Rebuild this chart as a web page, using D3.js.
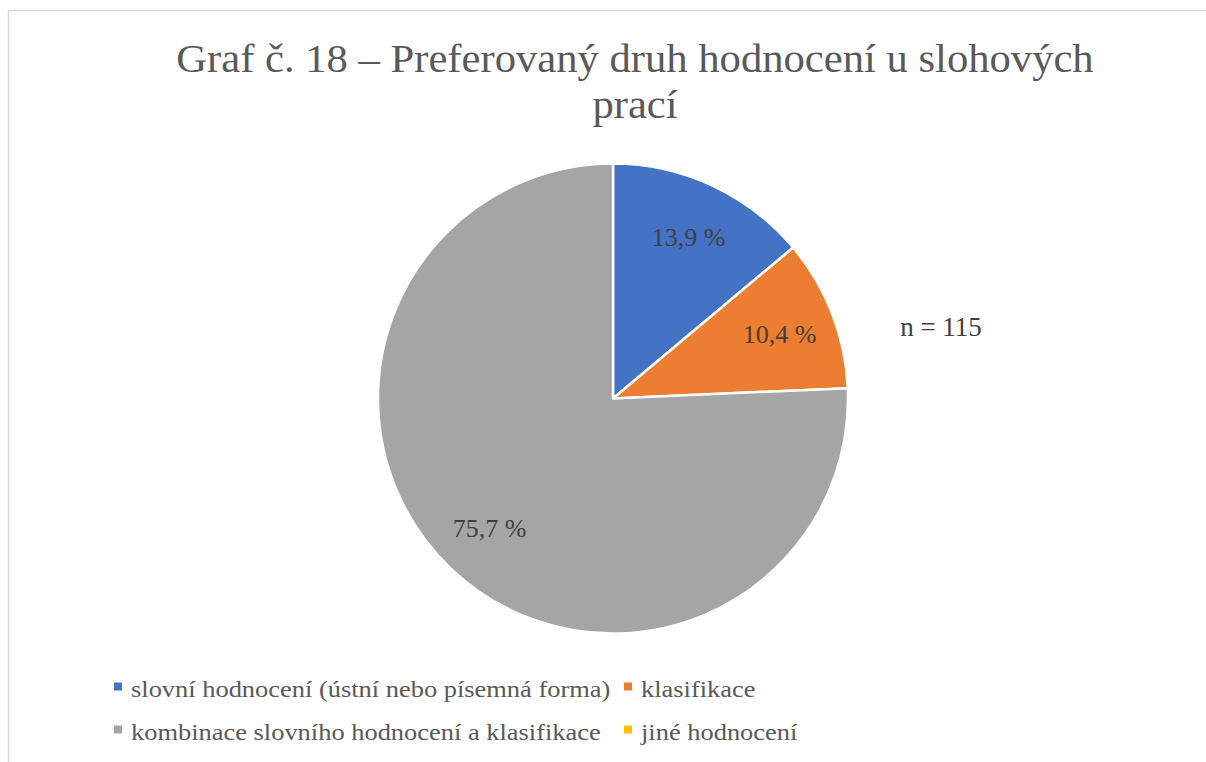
<!DOCTYPE html>
<html>
<head>
<meta charset="utf-8">
<script src="https://cdn.jsdelivr.net/npm/d3@7"></script>
<style>
  html, body { margin: 0; padding: 0; background: #fff; }
  svg { display: block; }
  text { font-family: "Liberation Serif", "Times New Roman", serif; }
</style>
</head>
<body>
<svg id="chart" width="1206" height="762"></svg>
<script>
// ---- data ----
const categories = [
  "slovní hodnocení (ústní nebo písemná forma)",
  "klasifikace",
  "kombinace slovního hodnocení a klasifikace",
  "jiné hodnocení"
];
const values = [13.9, 10.4, 75.7, 0];
const colors = ["#4472C4", "#ED7D31", "#A5A5A5", "#FFC000"];
const titleLines = ["Graf č. 18 – Preferovaný druh hodnocení u slohových", "prací"];
const note = "n = 115";

// ---- layout ----
const W = 1206, H = 762;
const svg = d3.select("#chart");

// chart border
svg.append("rect")
  .attr("x", 8.5).attr("y", 10.5)
  .attr("width", W + 20).attr("height", H + 20)
  .attr("fill", "none").attr("stroke", "#d9d9d9").attr("stroke-width", 1.5);

// title (glyphs slightly wide, as in the reference)
const title = svg.append("g");
titleLines.forEach((t, i) => {
  title.append("text")
    .attr("transform", `translate(635,${72 + i * 46}) scale(1.04,1)`)
    .attr("text-anchor", "middle")
    .attr("font-size", 41)
    .attr("fill", "#595959")
    .text(t);
});

// pie
const cx = 613, cy = 398.5, R = 235;
const pie = d3.pie().sort(null).value(d => d.v);
const data = categories.map((c, i) => ({ c, v: values[i], col: colors[i] }));
const arcs = pie(data);
const arc = d3.arc().innerRadius(0).outerRadius(R);
const labelArc = d3.arc().innerRadius(R * 0.76).outerRadius(R * 0.76);

const g = svg.append("g").attr("transform", `translate(${cx},${cy})`);
g.selectAll("path.slice")
  .data(arcs.filter(a => a.data.v > 0))
  .join("path")
  .attr("class", "slice")
  .attr("d", arc)
  .attr("fill", d => d.data.col)
  .attr("stroke", "#fff")
  .attr("stroke-width", 2.5)
  .attr("stroke-linejoin", "round");

const fmt = v => d3.format(".1f")(v).replace(".", ",") + " %";
g.selectAll("text.lbl")
  .data(arcs.filter(a => a.data.v > 0))
  .join("text")
  .attr("class", "lbl")
  .attr("transform", d => `translate(${labelArc.centroid(d)})`)
  .attr("text-anchor", "middle")
  .attr("dy", "0.35em")
  .attr("font-size", 26)
  .attr("fill", "#404040")
  .text(d => fmt(d.data.v));

// n = 115
svg.append("text")
  .attr("x", 941).attr("y", 336)
  .attr("text-anchor", "middle")
  .attr("font-size", 27)
  .attr("fill", "#404040")
  .text(note);

// legend
const legendCols = [114, 624];
const legendRows = [697, 740];
const leg = svg.append("g");
data.forEach((d, i) => {
  const x = legendCols[i % 2], y = legendRows[Math.floor(i / 2)];
  leg.append("rect")
    .attr("x", x).attr("y", y - 14.5)
    .attr("width", 8).attr("height", 8)
    .attr("fill", d.col);
  leg.append("text")
    .attr("transform", `translate(${x + 17},${y}) scale(1.15,1)`)
    .attr("font-size", 23)
    .attr("fill", "#595959")
    .text(d.c);
});
</script>
</body>
</html>
